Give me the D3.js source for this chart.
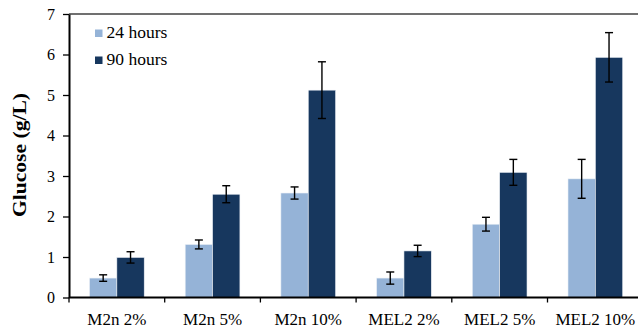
<!DOCTYPE html>
<html>
<head>
<meta charset="utf-8">
<script src="https://cdn.jsdelivr.net/npm/d3@7"></script>
<style>
  html, body { margin: 0; padding: 0; background: #fff; }
  svg { display: block; }
</style>
</head>
<body>
<svg id="chart" width="638" height="329"></svg>
<script>
// Glucose concentration after 24 h and 90 h, per medium and substrate load
const categories = ["M2n 2%", "M2n 5%", "M2n 10%", "MEL2 2%", "MEL2 5%", "MEL2 10%"];
const seriesNames = ["24 hours", "90 hours"];
const values24 = [0.48, 1.31, 2.58, 0.48, 1.81, 2.93];
const values90 = [0.99, 2.55, 5.12, 1.15, 3.09, 5.93];
const errors24 = [0.08, 0.11, 0.15, 0.15, 0.17, 0.48];
const errors90 = [0.14, 0.21, 0.70, 0.14, 0.32, 0.61];
const yTicks = [0, 1, 2, 3, 4, 5, 6, 7];
const colors = ["#95b3d7", "#17375e"];
const serifFont = '"Liberation Serif", "Times New Roman", serif';

const svg = d3.select("#chart").attr("font-family", serifFont);
const plotLeft = 69, plotRight = 643.2, plotTop = 14, plotBottom = 297.5;

const rows = categories.map((c, i) => ({
  category: c,
  bars: [
    { series: 0, value: values24[i], err: errors24[i] },
    { series: 1, value: values90[i], err: errors90[i] }
  ]
}));

const x0 = d3.scaleBand()
  .domain(categories)
  .range([plotLeft, plotRight])
  .paddingInner(0.428)
  .paddingOuter(0.214);

const x1 = d3.scaleBand()
  .domain([0, 1])
  .range([0, x0.bandwidth()]);

const y = d3.scaleLinear().domain([0, 7]).range([plotBottom, plotTop]);

// frame line along the top of the plot area
svg.append("line")
  .attr("x1", plotLeft).attr("x2", 640)
  .attr("y1", y(7)).attr("y2", y(7))
  .attr("stroke", "#404040").attr("stroke-width", 1.5);

// bars
const groups = svg.append("g").selectAll("g")
  .data(rows).join("g")
  .attr("transform", d => `translate(${x0(d.category)},0)`);

groups.selectAll("rect")
  .data(d => d.bars).join("rect")
  .attr("x", d => x1(d.series))
  .attr("width", x1.bandwidth())
  .attr("y", d => y(d.value))
  .attr("height", d => y(0) - y(d.value))
  .attr("fill", d => colors[d.series])
  .attr("stroke", "#eef2f7")
  .attr("stroke-width", 0.6);

// error bars
const capHalf = 4;
const eb = groups.selectAll("g.err")
  .data(d => d.bars).join("g")
  .attr("class", "err")
  .attr("stroke", "#000")
  .attr("stroke-width", 1.4);
eb.append("line")
  .attr("x1", d => x1(d.series) + x1.bandwidth() / 2)
  .attr("x2", d => x1(d.series) + x1.bandwidth() / 2)
  .attr("y1", d => y(d.value + d.err))
  .attr("y2", d => y(d.value - d.err));
eb.selectAll("line.cap")
  .data(d => [d.value + d.err, d.value - d.err].map(v => ({ v, d })))
  .join("line")
  .attr("class", "cap")
  .attr("x1", p => x1(p.d.series) + x1.bandwidth() / 2 - capHalf)
  .attr("x2", p => x1(p.d.series) + x1.bandwidth() / 2 + capHalf)
  .attr("y1", p => y(p.v))
  .attr("y2", p => y(p.v));

// y axis
const yAxis = svg.append("g")
  .attr("transform", `translate(${plotLeft},0)`)
  .call(d3.axisLeft(y).tickValues(yTicks).tickFormat(d3.format("d"))
    .tickSize(6).tickSizeOuter(0).tickPadding(8));
yAxis.attr("font-family", serifFont).attr("font-size", 16);
yAxis.select(".domain").attr("stroke", "#000").attr("stroke-width", 2);
yAxis.selectAll(".tick line").attr("stroke", "#000").attr("stroke-width", 1.3);
yAxis.selectAll(".tick text").attr("fill", "#000");

// x axis: labels centred in bands, ticks on band boundaries
const xAxis = svg.append("g")
  .attr("transform", `translate(0,${plotBottom})`)
  .call(d3.axisBottom(x0).tickSize(0).tickPadding(15));
xAxis.attr("font-family", serifFont).attr("font-size", 17);
xAxis.select(".domain").attr("stroke", "#000").attr("stroke-width", 2)
  .attr("d", `M${plotLeft},0H640`);
xAxis.selectAll(".tick text").attr("fill", "#000");
const boundaries = categories.map(c => x0(c) - x0.step() * x0.paddingOuter());
xAxis.selectAll("line.bound")
  .data(boundaries).join("line")
  .attr("class", "bound")
  .attr("x1", d => d).attr("x2", d => d)
  .attr("y1", 0).attr("y2", 5)
  .attr("stroke", "#000").attr("stroke-width", 1.3);

// y axis title
svg.append("text")
  .attr("transform", "translate(26,155) rotate(-90)")
  .attr("text-anchor", "middle")
  .attr("font-family", serifFont)
  .attr("font-size", 19)
  .attr("font-weight", "bold")
  .attr("fill", "#000")
  .attr("textLength", 124)
  .attr("lengthAdjust", "spacingAndGlyphs")
  .text("Glucose (g/L)");

// legend
const legend = svg.append("g").selectAll("g")
  .data(seriesNames).join("g")
  .attr("transform", (d, i) => `translate(95,${29.5 + i * 27})`);
legend.append("rect")
  .attr("width", 7.5).attr("height", 7.5)
  .attr("fill", (d, i) => colors[i]);
legend.append("text")
  .attr("x", 11.5).attr("y", 8.7)
  .attr("font-family", serifFont)
  .attr("font-size", 17.5)
  .attr("fill", "#000")
  .text(d => d);
</script>
</body>
</html>
